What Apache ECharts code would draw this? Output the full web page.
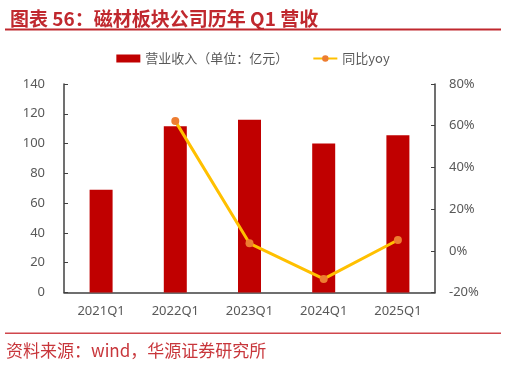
<!DOCTYPE html>
<html><head><meta charset="utf-8">
<script src="https://cdn.jsdelivr.net/npm/echarts@6/dist/echarts.min.js"></script>
<style>html,body{margin:0;padding:0;background:#fff}#c{width:506px;height:366px}</style>
</head><body><div id="c"></div>
<script>
var categories = ['2021Q1','2022Q1','2023Q1','2024Q1','2025Q1'];
var revenue = [69, 111.6, 116, 100, 105.6];
var yoy = [null, 62.2, 3.6, -13.5, 5.2];
var leftTicks = [0, 140, 20];
var rightTicks = [-20, 80, 20];

var chart = echarts.init(document.getElementById('c'), null, {renderer:'canvas'});
var red = '#c0282e';
chart.setOption({
  animation:false,
  backgroundColor:'#fff',
  title:{
    text:'图表 56：磁材板块公司历年 Q1 营收',
    left:5, top:4,
    textStyle:{color:red, fontSize:19, fontWeight:'bold', fontFamily:'Noto Sans CJK SC'}
  },
  graphic:[
    {type:'rect', shape:{x:5,y:28.5,width:496,height:2}, style:{fill:red}},
    {type:'rect', shape:{x:5,y:332.5,width:496,height:1.5}, style:{fill:'#d0474c'}},
    {type:'text', left:6, top:342, style:{text:'资料来源：wind，华源证券研究所', fill:'#c8363b', fontSize:17, fontFamily:'Noto Sans CJK SC'}}
  ],
  legend:{
    top:47, left:'center', itemGap:24,
    textStyle:{color:'#595959', fontSize:13, fontFamily:'Noto Sans CJK SC'},
    data:[
      {name:'营业收入（单位：亿元）', icon:'rect', itemStyle:{color:'#c00000'}},
      {name:'同比yoy'}
    ],
    itemWidth:24, itemHeight:8
  },
  grid:{left:64, right:71, top:84, bottom:73.5},
  xAxis:{
    type:'category', data:categories,
    axisLine:{lineStyle:{color:'#404040', width:1.5}},
    axisTick:{alignWithLabel:true, inside:true, length:4, lineStyle:{color:'#404040'}},
    axisLabel:{color:'#595959', fontSize:13, margin:12, fontFamily:'Noto Sans'}
  },
  yAxis:[
    {type:'value', min:leftTicks[0], max:leftTicks[1], interval:leftTicks[2],
     axisLine:{show:true, lineStyle:{color:'#404040', width:1.5}},
     axisTick:{show:true, inside:true, length:4, lineStyle:{color:'#404040'}},
     splitLine:{show:false},
     axisLabel:{color:'#595959', fontSize:13, margin:19, fontFamily:'Noto Sans'}},
    {type:'value', min:rightTicks[0], max:rightTicks[1], interval:rightTicks[2],
     axisLine:{show:true, lineStyle:{color:'#404040', width:1.5}},
     axisTick:{show:true, inside:true, length:4, lineStyle:{color:'#404040'}},
     splitLine:{show:false},
     axisLabel:{color:'#595959', fontSize:13, margin:14, formatter:'{value}%', fontFamily:'Noto Sans'}}
  ],
  series:[
    {name:'营业收入（单位：亿元）', type:'bar', data:revenue, barWidth:23, itemStyle:{color:'#c00000'}},
    {name:'同比yoy', type:'line', yAxisIndex:1, data:yoy, symbol:'circle', symbolSize:8,
     lineStyle:{color:'#ffc000', width:3}, itemStyle:{color:'#ed7d31'}}
  ]
});
</script></body></html>
